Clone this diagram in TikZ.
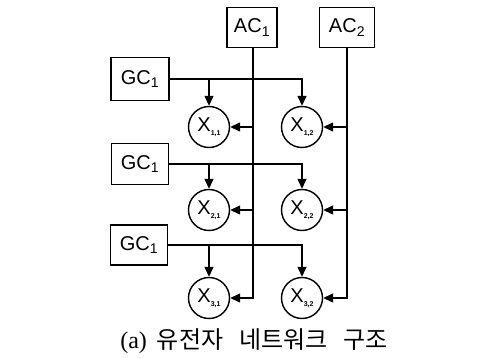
\documentclass[tikz,border=0pt]{standalone}
\usepackage{fontspec}
\setmainfont{Liberation Sans}
\newfontfamily\kofont{Noto Sans CJK KR}
\newfontfamily\capfont{Liberation Serif}
\usetikzlibrary{arrows.meta}
\begin{document}
\begin{tikzpicture}[x=1pt,y=-1pt,
  boxnode/.style={draw,line width=1.4pt,minimum height=40pt,inner sep=0pt,font=\fontsize{20}{22}\selectfont},
  cellnode/.style={draw,circle,line width=1.4pt,minimum size=41pt,inner sep=0pt,font=\fontsize{20}{22}\selectfont},
  arr/.style={line width=1.4pt,-{Triangle[length=10pt,width=9pt]}}]
\useasboundingbox (0,0) rectangle (489,358);
\newcommand{\xsub}[1]{X\raisebox{-4pt}{\fontsize{7}{8}\selectfont\bfseries #1}}
% controller boxes
\node[boxnode,minimum width=50pt] (ac1) at (252,27.5) {AC\textsubscript{1}};
\node[boxnode,minimum width=55pt] (ac2) at (347,27.5) {AC\textsubscript{2}};
\node[boxnode,minimum width=58pt,minimum height=43pt] (gc1) at (140,79) {GC\textsubscript{1}};
\node[boxnode,minimum width=57pt,minimum height=41pt] (gc2) at (140,164) {GC\textsubscript{1}};
\node[boxnode,minimum width=57pt,minimum height=40pt] (gc3) at (139,245) {GC\textsubscript{1}};
% cells
\node[cellnode] (x11) at (209,127) {\xsub{1,1}};
\node[cellnode] (x12) at (302,127) {\xsub{1,2}};
\node[cellnode] (x21) at (209,210) {\xsub{2,1}};
\node[cellnode] (x22) at (302,210) {\xsub{2,2}};
\node[cellnode] (x31) at (209,298) {\xsub{3,1}};
\node[cellnode] (x32) at (302,298) {\xsub{3,2}};
% row connectors
\draw[arr] (gc1.east) -| (x12.north);
\draw[arr] (gc1.east -| x11.north) -- (x11.north);
\draw[arr] (gc2.east) -| (x22.north);
\draw[arr] (gc2.east -| x21.north) -- (x21.north);
\draw[arr] (gc3.east) -| (x32.north);
\draw[arr] (gc3.east -| x31.north) -- (x31.north);
% column connectors
\coordinate (c1) at (253,0);
\coordinate (c2) at (347,0);
\draw[arr] (ac1.south -| c1) |- (x31.east);
\draw[arr] (x11.east -| c1) -- (x11.east);
\draw[arr] (x21.east -| c1) -- (x21.east);
\draw[arr] (ac2.south -| c2) |- (x32.east);
\draw[arr] (x12.east -| c2) -- (x12.east);
\draw[arr] (x22.east -| c2) -- (x22.east);
% caption
\node[font=\fontsize{24}{26}\selectfont\kofont] (cap) at (254,341) {{\capfont (a)}\hspace{10pt}유전자\hspace{16pt}네트워크\hspace{16pt}구조};
\end{tikzpicture}
\end{document}
